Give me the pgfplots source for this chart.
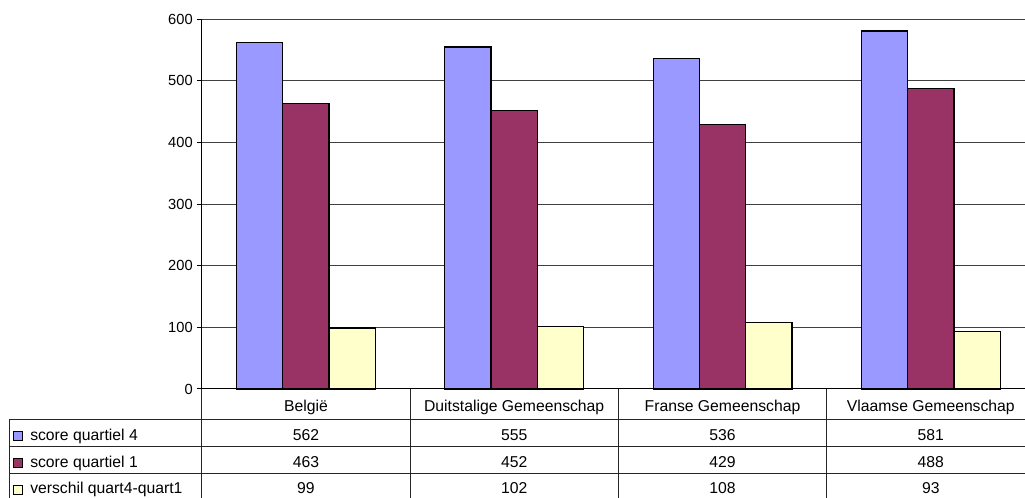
\documentclass[border=0pt]{standalone}
\usepackage{pgfplots}
\pgfplotsset{compat=1.18}
\usepackage{fontspec}
\setmainfont{Liberation Sans}
\definecolor{cA}{HTML}{9999FF}
\definecolor{cB}{HTML}{993366}
\definecolor{cC}{HTML}{FFFFCC}
\begin{document}
\begin{tikzpicture}
\begin{axis}[
  at={(0,0)}, anchor=south west,
  scale only axis, width=625pt, height=277.275pt,
  xmin=-0.5, xmax=3.5, ymin=0, ymax=600,
  ytick={0,100,...,600}, xtick=\empty,
  ymajorgrids, grid style={black!75, line width=0.75pt},
  axis x line*=bottom, axis y line*=left,
  axis line style={-, black, line width=0.75pt},
  tick align=outside, major tick length=3.2pt,
  tick style={black, line width=0.75pt},
  yticklabel style={font=\fontsize{11}{13}\selectfont},
  /pgf/number format/assume math mode=true,
  ybar=0pt, bar width=34.7pt,
  clip=false,
]
\addplot[fill=cA, draw=black, line width=0.9pt] coordinates {(0,562) (1,555) (2,536) (3,581)};
\addplot[fill=cB, draw=black, line width=0.9pt] coordinates {(0,463) (1,452) (2,429) (3,488)};
\addplot[fill=cC, draw=black, line width=0.9pt] coordinates {(0,99) (1,102) (2,108) (3,93)};
\end{axis}
\begin{scope}[x=0.75pt,y=-0.75pt,shift={(-151.275pt,291.75pt)}]
  % table lines
  \foreach \xx in {201.7,410.0,618.3,826.7} \draw[black!85, line width=0.75pt] (\xx,389) -- (\xx,500);
  \foreach \yy in {419.3,446.7,473.3} \draw[black!85, line width=0.75pt] (9.3,\yy) -- (1035,\yy);
  \draw[black!85, line width=0.75pt] (9.3,419.3) -- (9.3,500);
  \begin{scope}[every node/.style={anchor=base, inner sep=0pt, font=\fontsize{11.8}{14}\selectfont}]
  \node at (305.9,411.5) {België};
  \node at (514.2,411.5) {Duitstalige Gemeenschap};
  \node at (722.5,411.5) {Franse Gemeenschap};
  \node at (930.8,411.5) {Vlaamse Gemeenschap};
  \node at (305.9,440.5) {562};
  \node at (514.2,440.5) {555};
  \node at (722.5,440.5) {536};
  \node at (930.8,440.5) {581};
  \node at (305.9,467.5) {463};
  \node at (514.2,467.5) {452};
  \node at (722.5,467.5) {429};
  \node at (930.8,467.5) {488};
  \node at (305.9,494) {99};
  \node at (514.2,494) {102};
  \node at (722.5,494) {108};
  \node at (930.8,494) {93};
  \node[anchor=base west] at (30,440.5) {score quartiel 4};
  \node[anchor=base west] at (30,467.5) {score quartiel 1};
  \node[anchor=base west] at (30,494) {verschil quart4-quart1};
  \end{scope}
  \draw[black, line width=0.75pt, fill=cA] (13.5,432) rectangle (22.5,441);
  \draw[black, line width=0.75pt, fill=cB] (13.5,459) rectangle (22.5,468);
  \draw[black, line width=0.75pt, fill=cC] (13.5,485.5) rectangle (22.5,494.5);
\end{scope}
\pgfresetboundingbox
\begin{scope}[x=0.75pt,y=-0.75pt,shift={(-151.275pt,291.75pt)}]
\path[use as bounding box] (0,0) rectangle (1025,498);
\end{scope}
\end{tikzpicture}
\end{document}
